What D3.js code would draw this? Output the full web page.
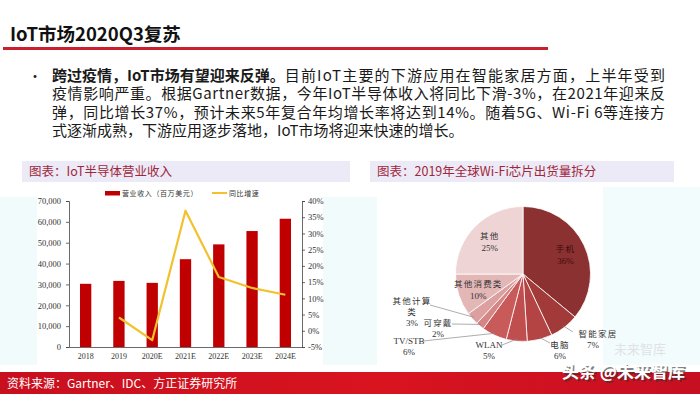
<!DOCTYPE html>
<html>
<head>
<meta charset="utf-8">
<script src="https://cdn.jsdelivr.net/npm/d3@7"></script>
<style>
  body { margin: 0; background: #fff; }
  svg { display: block; }
</style>
</head>
<body>
<div id="page"></div>
<script>
// === DATA ===
// IoT semiconductor revenue (million USD) and YoY growth (%)
const years = ["2018", "2019", "2020E", "2021E", "2022E", "2023E", "2024E"];
const revenue = [30300, 31700, 30750, 42100, 49200, 55600, 61500];
const growth = [null, 4.1, -2.9, 37.0, 16.6, 13.2, 11.1];
const revenueTicks = [0, 10000, 20000, 30000, 40000, 50000, 60000, 70000];
const growthTicks = [-5, 0, 5, 10, 15, 20, 25, 30, 35, 40];

// 2019 global Wi-Fi chip shipments split (%)
const segments = ["手机", "智能家居", "电脑", "WLAN", "TV/STB", "可穿戴", "其他计算类", "其他消费类", "其他"];
const shares = [36, 7, 6, 5, 6, 2, 3, 10, 25];
const segmentColors = ["#8c3131", "#a23a3a", "#b44343", "#c14e4e", "#c95a5a", "#d68585", "#dda0a0", "#e4b7b7", "#eed4d4"];

const leadBold = "跨过疫情，IoT市场有望迎来反弹。";
const leadRest = "目前IoT主要的下游应用在智能家居方面，上半年受到";
const bodyLines = [
    "疫情影响严重。根据Gartner数据，今年IoT半导体收入将同比下滑-3%，在2021年迎来反",
    "弹，同比增长37%，预计未来5年复合年均增长率将达到14%。随着5G、Wi-Fi 6等连接方",
    "式逐渐成熟，下游应用逐步落地，IoT市场将迎来快速的增长。"
];

const width = 700, height = 394;
const sans = "'Noto Sans CJK SC', 'Noto Sans', sans-serif";
const serif = "'Liberation Serif', 'Noto Sans CJK SC', serif";

const svg = d3.select("#page").append("svg")
    .attr("width", width)
    .attr("height", height);

const defs = svg.append("defs");
const footGrad = defs.append("linearGradient").attr("id", "foot");
footGrad.append("stop").attr("offset", "0").attr("stop-color", "#c80f1e");
footGrad.append("stop").attr("offset", "0.55").attr("stop-color", "#d8141f");
footGrad.append("stop").attr("offset", "1").attr("stop-color", "#c70f22");

// === HEADER ===
svg.append("text")
    .attr("x", 10).attr("y", 40.5)
    .attr("font-family", sans).attr("font-weight", "bold")
    .attr("font-size", 18.5).attr("fill", "#111")
    .text("IoT市场2020Q3复苏");

svg.append("rect")
    .attr("x", 3).attr("y", 47).attr("width", 545).attr("height", 3)
    .attr("fill", "#c9202e");

// bullet paragraph
const textX = 52, textEnd = 665;
svg.append("text")
    .attr("x", 28).attr("y", 80.5)
    .attr("font-family", sans).attr("font-size", 14).attr("fill", "#222")
    .text("•");

const boldPart = svg.append("text")
    .attr("x", textX).attr("y", 80.5)
    .attr("font-family", sans).attr("font-size", 15).attr("font-weight", "bold").attr("fill", "#1a1a1a")
    .text(leadBold);
const boldW = boldPart.node().getComputedTextLength();
svg.append("text")
    .attr("x", textX + boldW).attr("y", 80.5)
    .attr("font-family", sans).attr("font-size", 15).attr("fill", "#1a1a1a")
    .attr("textLength", textEnd - textX - boldW).attr("lengthAdjust", "spacing")
    .text(leadRest);

bodyLines.forEach((line, i) => {
    const t = svg.append("text")
        .attr("x", textX).attr("y", 99 + i * 18.6)
        .attr("font-family", sans).attr("font-size", 15).attr("fill", "#1a1a1a")
        .text(line);
    if (i < 2) t.attr("textLength", textEnd - textX).attr("lengthAdjust", "spacing");
});

// === PANEL BACKGROUNDS ===
svg.append("rect").attr("x", 0).attr("y", 197).attr("width", 700).attr("height", 168).attr("fill", "#f1fbfc");
svg.append("rect").attr("x", 603).attr("y", 187).attr("width", 97).attr("height", 178).attr("fill", "#f3fcfd");
svg.append("rect").attr("x", 37).attr("y", 187).attr("width", 286).attr("height", 178).attr("fill", "#fff");
svg.append("rect").attr("x", 377).attr("y", 187).attr("width", 226).attr("height", 178).attr("fill", "#fff");

// chart caption bars
function caption(x, w, label) {
    svg.append("rect")
        .attr("x", x).attr("y", 161).attr("width", w).attr("height", 21)
        .attr("fill", "#ebeaf6");
    svg.append("text")
        .attr("x", x + 7).attr("y", 176)
        .attr("font-family", sans).attr("font-size", 12.5).attr("fill", "#a1263a")
        .text(label);
}
caption(22, 328, "图表：IoT半导体营业收入");
caption(370, 304, "图表：2019年全球Wi-Fi芯片出货量拆分");

// === BAR + LINE CHART ===
const plotLeft = 69, plotRight = 302, plotTop = 201, plotBottom = 347;

const x = d3.scaleBand()
    .domain(years)
    .range([plotLeft, plotRight])
    .paddingInner(0.66)
    .paddingOuter(0.33);

const yRev = d3.scaleLinear().domain([0, 70000]).range([plotBottom, plotTop]);
const yPct = d3.scaleLinear().domain([-5, 40]).range([plotBottom, plotTop]);

svg.append("g").selectAll("rect")
    .data(years)
    .enter()
    .append("rect")
    .attr("x", d => x(d))
    .attr("width", x.bandwidth())
    .attr("y", (d, i) => yRev(revenue[i]))
    .attr("height", (d, i) => yRev(0) - yRev(revenue[i]))
    .attr("fill", "#c00000");

const growthPts = years.map((d, i) => ({ year: d, v: growth[i] })).filter(d => d.v !== null);
const line = d3.line()
    .x(d => x(d.year) + x.bandwidth() / 2)
    .y(d => yPct(d.v));

svg.append("path")
    .datum(growthPts)
    .attr("d", line)
    .attr("fill", "none")
    .attr("stroke", "#f2c12c")
    .attr("stroke-width", 2.2)
    .attr("stroke-linejoin", "round");

// axes
function styleAxis(g) {
    g.selectAll("path, line").attr("stroke", "#444").attr("stroke-width", 0.8);
    g.selectAll("text")
        .attr("font-family", serif).attr("font-size", 8.5).attr("fill", "#333");
}

svg.append("g")
    .attr("transform", `translate(${plotLeft},0)`)
    .call(d3.axisLeft(yRev).tickValues(revenueTicks).tickFormat(d3.format(",")).tickSize(3).tickSizeOuter(3).tickPadding(5))
    .call(styleAxis);

svg.append("g")
    .attr("transform", `translate(${plotRight},0)`)
    .call(d3.axisRight(yPct).tickValues(growthTicks).tickFormat(d => d + "%").tickSize(3).tickSizeOuter(3).tickPadding(3))
    .call(styleAxis);

svg.append("g")
    .attr("transform", `translate(0,${plotBottom})`)
    .call(d3.axisBottom(x).tickSize(0).tickSizeOuter(0).tickPadding(6))
    .call(styleAxis)
    .call(g => g.selectAll("text").attr("font-size", 8));

// legend
svg.append("rect").attr("x", 105).attr("y", 191).attr("width", 15).attr("height", 4.5).attr("fill", "#c00000");
svg.append("text").attr("x", 122).attr("y", 196)
    .attr("font-family", sans).attr("font-size", 7).attr("letter-spacing", 0.6).attr("fill", "#333")
    .text("营业收入（百万美元）");
svg.append("line").attr("x1", 212).attr("x2", 227).attr("y1", 193).attr("y2", 193)
    .attr("stroke", "#f2c12c").attr("stroke-width", 2);
svg.append("text").attr("x", 229).attr("y", 196)
    .attr("font-family", sans).attr("font-size", 7).attr("letter-spacing", 0.6).attr("fill", "#333")
    .text("同比增速");

// === PIE CHART ===
const cx = 523, cy = 274, radius = 67.5;
const pieData = d3.pie().sort(null).value(d => d.v)(segments.map((s, i) => ({ name: s, v: shares[i], color: segmentColors[i] })));
const arc = d3.arc().innerRadius(0).outerRadius(radius);
const labelArc = d3.arc().innerRadius(47).outerRadius(47);

const pieG = svg.append("g").attr("transform", `translate(${cx},${cy})`);
pieG.selectAll("path")
    .data(pieData)
    .enter()
    .append("path")
    .attr("d", arc)
    .attr("fill", d => d.data.color)
    .attr("stroke", "#fff")
    .attr("stroke-width", 0.8);

// labels: inside for big slices, outside with leader lines for small ones
// offsets are relative to pie centre: text anchor (tx, ty) and leader end (lx, ly)
const outsideLabels = {
    "智能家居": { lines: ["智能家居"], tx: 75, ty: 63, px: 70, lx: 50, ly: 58 },
    "电脑": { lines: ["电脑"], tx: 37, ty: 74, px: 37, lx: 27, ly: 69 },
    "WLAN": { lines: ["WLAN"], tx: -34, ty: 74, px: -34, lx: -21, ly: 71 },
    "TV/STB": { lines: ["TV/STB"], tx: -114, ty: 70, px: -114, lx: -100, ly: 67 },
    "可穿戴": { lines: ["可穿戴"], tx: -85, ty: 52, px: -85, lx: -71, ly: 50 },
    "其他计算类": { lines: ["其他计算", "类"], tx: -111, ty: 30, px: -111, lx: -93, ly: 31 }
};

const labelG = svg.append("g").attr("transform", `translate(${cx},${cy})`)
    .attr("font-family", serif).attr("text-anchor", "middle");

pieData.forEach(d => {
    const name = d.data.name;
    const pct = d.data.v + "%";
    const out = outsideLabels[name];
    if (!out) {
        const [px, py] = labelArc.centroid(d);
        const dark = d.index === 0;
        labelG.append("text").attr("x", px).attr("y", py - 2)
            .attr("font-family", sans).attr("font-size", 8.5).attr("letter-spacing", 1.2)
            .attr("fill", dark ? "#3a0b0b" : "#333").text(name);
        labelG.append("text").attr("x", px).attr("y", py + 10)
            .attr("font-size", 9).attr("fill", dark ? "#3a0b0b" : "#333").text(pct);
        return;
    }
    const mid = (d.startAngle + d.endAngle) / 2;
    const r0 = radius * 0.97;
    labelG.append("line")
        .attr("x1", Math.sin(mid) * r0).attr("y1", -Math.cos(mid) * r0)
        .attr("x2", out.lx).attr("y2", out.ly)
        .attr("stroke", "#8a8a8a").attr("stroke-width", 0.7);
    out.lines.forEach((ln, j) => {
        const isLatin = /^[A-Za-z\/]+$/.test(ln);
        labelG.append("text").attr("x", out.tx).attr("y", out.ty + j * 11)
            .attr("font-family", isLatin ? serif : sans)
            .attr("font-size", isLatin ? 9 : 8.5)
            .attr("letter-spacing", isLatin ? 0 : 1.2)
            .attr("fill", "#333").text(ln);
    });
    labelG.append("text").attr("x", out.px).attr("y", out.ty + out.lines.length * 11)
        .attr("font-size", 9).attr("fill", "#333").text(pct);
});

// faint watermark over the chart
svg.append("text").attr("x", 614).attr("y", 354)
    .attr("font-family", sans).attr("font-size", 13).attr("fill", "#dfe3e6")
    .text("未来智库");

// === FOOTER ===
svg.append("rect").attr("x", 0).attr("y", 372).attr("width", 700).attr("height", 22).attr("fill", "url(#foot)");
svg.append("text").attr("x", 7).attr("y", 387.5)
    .attr("font-family", sans).attr("font-size", 12).attr("fill", "#fff")
    .text("资料来源：Gartner、IDC、方正证券研究所");

svg.append("text").attr("x", 563.5).attr("y", 379.5)
    .attr("font-family", sans).attr("font-size", 17).attr("font-weight", "bold")
    .attr("fill", "#333").attr("opacity", 0.6)
    .text("头条 @未来智库");
svg.append("text").attr("x", 562).attr("y", 378)
    .attr("font-family", sans).attr("font-size", 17).attr("font-weight", "bold")
    .attr("fill", "#fff")
    .text("头条 @未来智库");
</script>
</body>
</html>
